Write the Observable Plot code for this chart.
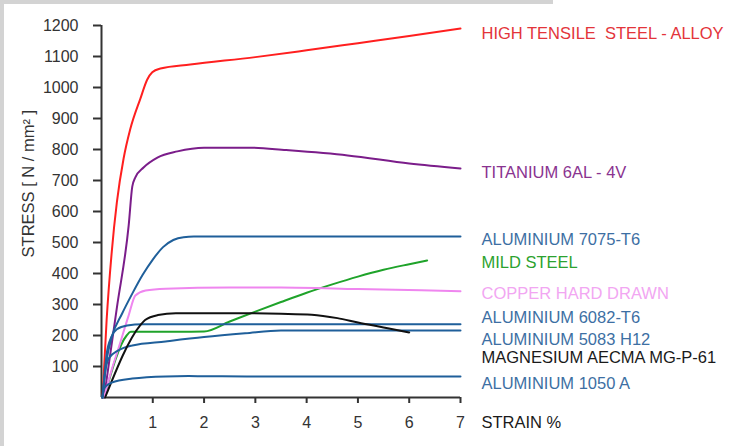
<!DOCTYPE html>
<html><head><meta charset="utf-8">
<script src="https://cdn.jsdelivr.net/npm/d3@7"></script>
<script src="https://cdn.jsdelivr.net/npm/@observablehq/plot@0.6"></script>
<style>
html,body{margin:0;padding:0;background:#fff;}
body{width:756px;height:446px;position:relative;overflow:hidden;font-family:"Liberation Sans",Arial,sans-serif;}
#topbar{position:absolute;left:0;top:0;width:553px;height:4px;background:#d3d3d3;}
#leftbar{position:absolute;left:0;top:0;width:4px;height:446px;background:#d3d3d3;}
#chart{position:absolute;left:0;top:0;}
</style></head><body>
<div id="chart"></div><div id="topbar"></div><div id="leftbar"></div>
<script>
// ---- data (strain %, stress N/mm²) ----
const htsStrain = [0.02,0.1,0.2,0.3,0.43,0.56,0.76,0.89,0.99,1.15,1.73,3,4,5,6,7];
const htsStress = [0,250,470,630,770,865,965,1025,1049,1061,1074,1098,1120,1143,1166,1190];
const tiStrain = [0.05,0.3,0.53,0.6,0.66,0.82,1.09,1.48,2.0,2.9,3.6,4.8,6.0,7];
const tiStress = [0,290,555,680,710,742,774,794,806,806,798,781,755,739];
const al7075Strain = [0.02,0.1,0.2,0.4,0.6,0.8,1.0,1.2,1.4,1.6,1.8,3,5,7];
const al7075Stress = [0,120,195,270,335,395,445,485,508,517,519,519,519,519];
const mildStrain = [0.05,0.49,0.57,1.0,1.5,2.0,2.5,3.0,3.5,4.0,4.5,5.0,5.5,6.0,6.35];
const mildStress = [0,200,212,212,212,213,245,277,308,338,365,390,412,430,442];
const cuStrain = [0.05,0.2,0.33,0.53,0.66,0.86,1.25,2.5,3.5,5,7];
const cuStress = [0,90,158,265,329,345,351,355,355,350,343];
const al6082Strain = [0.02,0.1,0.19,0.3,0.5,0.8,2,4,7];
const al6082Stress = [0,140,195,220,232,236,236,236,236];
const al5083Strain = [0.02,0.07,0.14,0.33,0.6,1.25,2.0,2.8,3.5,5,7];
const al5083Stress = [0,80,126,152,168,181,195,207,216,216,216];
const mgStrain = [0.07,0.75,0.85,1.1,1.45,2.5,3.5,4.1,4.6,5.0,5.5,6.0];
const mgStress = [0,232,250,266,272,272,270,267,256,242,226,210];
const al1050Strain = [0.02,0.05,0.2,0.6,1.25,1.7,3,5,7];
const al1050Stress = [0,30,48,61,68,69,68,68,68];

const names = ["HIGH TENSILE\u00a0 STEEL - ALLOY","TITANIUM 6AL - 4V","ALUMINIUM 7075-T6","MILD STEEL",
  "COPPER HARD DRAWN","ALUMINIUM 6082-T6","ALUMINIUM 5083 H12","MAGNESIUM AECMA MG-P-61","ALUMINIUM 1050 A"];
const lineColors = ["#ff1f1f","#7b1d8a","#1f5f9a","#1fa32a","#ef86ef","#1f5f9a","#1f5f9a","#111111","#1f5f9a"];
const labelColors = ["#e3343a","#8a3390","#3d6fa3","#2ca22f","#f2a6f2","#3d6fa3","#3d6fa3","#1a1a1a","#3d6fa3"];
const labelStress = [1174,726,510,435,335,258,187,129,45]; // label anchor heights
const yTicks = [100,200,300,400,500,600,700,800,900,1000,1100,1200];
const xTicks = [1,2,3,4,5,6,7];

const strains = [htsStrain,tiStrain,al7075Strain,mildStrain,cuStrain,al6082Strain,al5083Strain,mgStrain,al1050Strain];
const stresses = [htsStress,tiStress,al7075Stress,mildStress,cuStress,al6082Stress,al5083Stress,mgStress,al1050Stress];

const rows = [];
names.forEach((n,i)=>strains[i].forEach((s,j)=>rows.push({name:n, strain:s, stress:stresses[i][j]})));
const labels = names.map((n,i)=>({name:n, y:labelStress[i], color:labelColors[i]}));

const chart = Plot.plot({
  width:756, height:446,
  marginLeft:101, marginRight:296, marginTop:25, marginBottom:49,
  style:{fontFamily:"'Liberation Sans', Arial, sans-serif", color:"#333", background:"transparent"},
  x:{domain:[0,7]},
  y:{domain:[0,1200]},
  color:{domain:names, range:lineColors},
  marks:[
    Plot.axisY({ticks:yTicks, tickFormat:d=>String(d), tickSize:8, tickPadding:15, fontSize:16, label:null, strokeWidth:2}),
    Plot.axisX({ticks:xTicks, tickFormat:d=>String(d), tickSize:6, tickPadding:13, fontSize:16, label:null, strokeWidth:2}),
    Plot.ruleX([0],{y1:0,y2:1200,stroke:"#333",strokeWidth:2}),
    Plot.ruleY([0],{x1:0,x2:7,stroke:"#333",strokeWidth:2}),
    Plot.line(rows,{x:"strain",y:"stress",z:"name",stroke:"name",strokeWidth:2,curve:"monotone-x"}),
    Plot.text(labels,{x:()=>7,y:"y",text:"name",fill:d=>d.color,textAnchor:"start",dx:21,fontSize:16.5}),
    Plot.text(["STRAIN %"],{x:()=>7,y:()=>0,textAnchor:"start",dx:21,dy:25,fontSize:16.5,fill:"#1a1a1a"}),
    Plot.text(["STRESS [ N / mm² ]"],{x:()=>-1.42,y:()=>690,rotate:-90,fontSize:16.5,fill:"#333"})
  ]
});
document.getElementById("chart").appendChild(chart);
</script></body></html>
